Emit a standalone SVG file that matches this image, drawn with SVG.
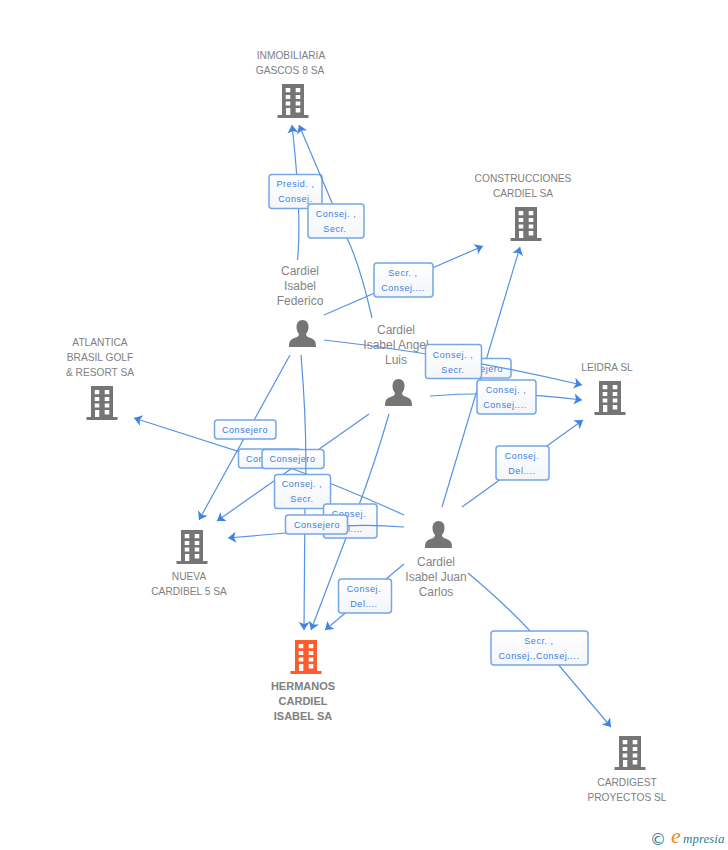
<svg xmlns="http://www.w3.org/2000/svg" width="728" height="850" viewBox="0 0 728 850">
<style>
.n{font-family:"Liberation Sans",Arial,sans-serif;font-size:10.2px;fill:#808080;text-anchor:middle}
.p{font-family:"Liberation Sans",Arial,sans-serif;font-size:12px;fill:#858585;text-anchor:middle}
.h{font-family:"Liberation Sans",Arial,sans-serif;font-size:11px;font-weight:bold;fill:#808080;text-anchor:middle}
.l{fill:none;stroke:#5592e4;stroke-width:1.2;marker-end:url(#a)}
.b{fill:url(#g);stroke:#74a6e8;stroke-width:1.5}
.t{font-family:"Liberation Sans",Arial,sans-serif;font-size:9px;letter-spacing:.55px;fill:#3b7de2;text-anchor:middle}
.d{fill:#757575}
</style>
<defs>
<linearGradient id="g" x1="0" y1="0" x2="0" y2="1"><stop offset="0" stop-color="#fff"/><stop offset="1" stop-color="#f3f5f8"/></linearGradient>
<marker id="a" markerUnits="userSpaceOnUse" markerWidth="12" markerHeight="14" refX="10" refY="7" orient="auto"><path d="M2,1.500 L10,7 L2,12.500 L4,7 Z" fill="#3f84e4"/></marker>
<path id="bld" fill-rule="evenodd" d="M-11,0 H11 V31 H15.500 V34 H-15.500 V31 H-11 Z M-7.300,4 V8.300 H-2.700 V4 Z M2.700,4 V8.300 H7.300 V4 Z M-7.300,11 V15 H-2.700 V11 Z M2.700,11 V15 H7.300 V11 Z M-7.300,17.500 V21.500 H-2.700 V17.500 Z M2.700,17.500 V21.500 H7.300 V17.500 Z M-7,24 V31 H-2.700 V24 Z M2.700,24 V28.500 H7.300 V24 Z"/>
<path id="per" d="M0,0 C4,0 6,3 6,7 C6,10 5,12 3.500,14 C3.500,16 5,17 8,18 C12,19.500 13.500,21 13.500,27 H-13.500 C-13.500,21 -12,19.500 -8,18 C-5,17 -3.500,16 -3.500,14 C-5,12 -6,10 -6,7 C-6,3 -4,0 0,0 Z"/>
</defs>
<rect width="728" height="850" fill="#fff"/>

<g id="node-inmobiliaria"><use href="#bld" x="293" y="84" class="d"/><text class="n" x="291" y="59">INMOBILIARIA</text><text class="n" x="290" y="74">GASCOS 8 SA</text></g>
<g id="node-construcciones"><use href="#bld" x="526" y="207" class="d"/><text class="n" x="523" y="182">CONSTRUCCIONES</text><text class="n" x="523" y="197">CARDIEL SA</text></g>
<g id="node-atlantica"><use href="#bld" x="102" y="386" class="d"/><text class="n" x="100" y="346">ATLANTICA</text><text class="n" x="100" y="361">BRASIL GOLF</text><text class="n" x="100" y="376">&amp; RESORT SA</text></g>
<g id="node-leidra"><use href="#bld" x="610" y="381" class="d"/><text class="n" x="607" y="371">LEIDRA SL</text></g>
<g id="node-nueva"><use href="#bld" x="192" y="530" class="d"/><text class="n" x="189" y="580">NUEVA</text><text class="n" x="189" y="595">CARDIBEL 5 SA</text></g>
<g id="node-hermanos"><use href="#bld" x="306" y="640" fill="#ff5c2e"/><text class="h" x="303" y="690">HERMANOS</text><text class="h" x="303" y="705">CARDIEL</text><text class="h" x="303" y="720">ISABEL SA</text></g>
<g id="node-cardigest"><use href="#bld" x="630" y="736" class="d"/><text class="n" x="627" y="786">CARDIGEST</text><text class="n" x="627" y="801">PROYECTOS SL</text></g>
<g id="node-federico"><use href="#per" x="302.500" y="320" class="d"/><text class="p" x="300" y="275">Cardiel</text><text class="p" x="300" y="290">Isabel</text><text class="p" x="300" y="305">Federico</text></g>
<g id="node-angel"><use href="#per" x="398.500" y="379" class="d"/><text class="p" x="396" y="334">Cardiel</text><text class="p" x="396" y="349">Isabel Angel</text><text class="p" x="396" y="364">Luis</text></g>
<g id="node-juan"><use href="#per" x="438.500" y="521" class="d"/><text class="p" x="436" y="566">Cardiel</text><text class="p" x="436" y="581">Isabel Juan</text><text class="p" x="436" y="596">Carlos</text></g>

<g id="connectors">
<path class="l" d="M297.500,260 Q302,215 292,125"/>
<g><rect class="b" x="269" y="174.500" width="53" height="34" rx="3"/><text class="t" x="295.500" y="187">Presid. ,</text><text class="t" x="295.500" y="202">Consej.</text></g>
<path class="l" d="M372,318 Q360,265 347,238 L299,125"/>
<g><rect class="b" x="308" y="204" width="56" height="34" rx="3"/><text class="t" x="336" y="217">Consej. ,</text><text class="t" x="335" y="232">Secr.</text></g>
<path class="l" d="M324,315 L483,246"/>
<g><rect class="b" x="374" y="263" width="59" height="34" rx="3"/><text class="t" x="403" y="276">Secr. ,</text><text class="t" x="403" y="291">Consej....</text></g>
<path class="l" d="M442,507 L520,247"/>
<g><rect class="b" x="449" y="358.500" width="62" height="19.500" rx="3"/><text class="t" x="480" y="372">Consejero</text></g>
<path class="l" d="M324,340 Q450,354 582,385"/>
<g><rect class="b" x="425.500" y="344.500" width="56" height="34" rx="3"/><text class="t" x="453" y="358">Consej. ,</text><text class="t" x="453" y="373">Secr.</text></g>
<path class="l" d="M430,396 Q505,390 582,400"/>
<g><rect class="b" x="477" y="380" width="59" height="34" rx="3"/><text class="t" x="506" y="393">Consej. ,</text><text class="t" x="505" y="408">Consej....</text></g>
<path class="l" d="M462,507 L583,420"/>
<g><rect class="b" x="496" y="446" width="53" height="34" rx="3"/><text class="t" x="522" y="459">Consej.</text><text class="t" x="522" y="474">Del....</text></g>
<path class="l" d="M290,355 L199,520"/>
<g><rect class="b" x="214.500" y="420" width="61.500" height="19" rx="3"/><text class="t" x="245" y="433">Consejero</text></g>
<path class="l" d="M404,515 Q340,486 290,468 L134,418"/>
<g><rect class="b" x="238.500" y="449" width="62" height="19" rx="3"/><text class="t" x="269" y="462">Consejero</text></g>
<path class="l" d="M369,414 L217,521"/>
<g><rect class="b" x="262" y="449.500" width="62" height="19" rx="3"/><text class="t" x="292.500" y="462">Consejero</text></g>
<path class="l" d="M301,355 Q308,440 305,500 L304,630"/>
<g><rect class="b" x="274.500" y="474.500" width="56" height="34" rx="3"/><text class="t" x="302" y="487">Consej. ,</text><text class="t" x="302" y="502">Secr.</text></g>
<path class="l" d="M389,414 Q370,480 346,538 L311,630"/>
<g><rect class="b" x="323.500" y="504" width="53.500" height="34" rx="3"/><text class="t" x="349" y="517">Consej.</text><text class="t" x="349" y="532">Del....</text></g>
<path class="l" d="M404,527 Q340,522 286,533 L228,538"/>
<g><rect class="b" x="285.500" y="515" width="62" height="19" rx="3"/><text class="t" x="317" y="528">Consejero</text></g>
<path class="l" d="M404,564 L325,630"/>
<g><rect class="b" x="338.500" y="579" width="53" height="34" rx="3"/><text class="t" x="364" y="592">Consej.</text><text class="t" x="364" y="607">Del....</text></g>
<path class="l" d="M468,573 Q505,604 530,631 L611,727"/>
<g><rect class="b" x="491" y="631" width="97" height="34" rx="3"/><text class="t" x="539" y="644">Secr. ,</text><text class="t" x="539" y="659">Consej.,Consej....</text></g>
</g>

<g id="logo"><text x="650" y="845" font-family="'DejaVu Sans',sans-serif" font-size="16" fill="#2f7f8f">©</text><text x="671" y="843" font-family="'Liberation Serif',serif" font-style="italic" font-size="22" fill="#f08a1d">e</text><text x="683" y="843" font-family="'Liberation Serif',serif" font-style="italic" font-size="13" fill="#2f7f8f">mpresia</text></g>
</svg>
